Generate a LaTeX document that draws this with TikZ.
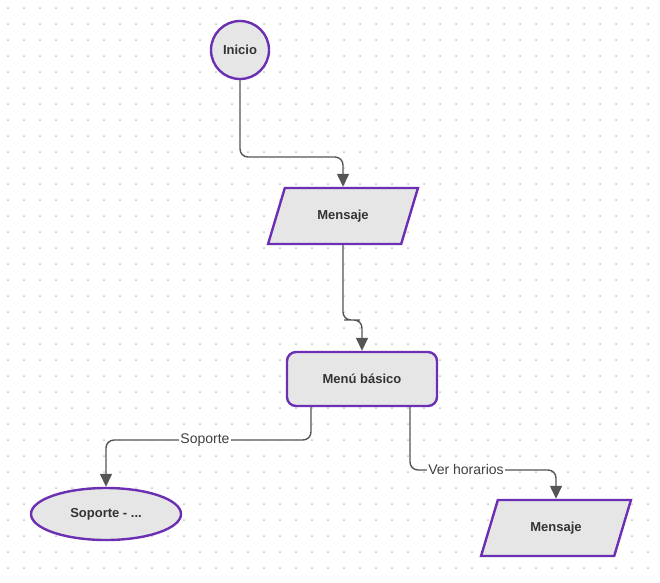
\documentclass[tikz,border=0pt]{standalone}
\usepackage{fontspec}
\setmainfont{Liberation Sans}
\usetikzlibrary{shapes.geometric,arrows.meta}
\definecolor{pur}{HTML}{6B2FB3}
\definecolor{fil}{HTML}{E6E6E6}
\definecolor{ln}{HTML}{555555}
\definecolor{dot}{HTML}{C0C0C0}
\begin{document}
\begin{tikzpicture}[x=1pt,y=-1pt,
  box/.style={draw=pur,line width=2.4pt,fill=fil,font=\bfseries\fontsize{13}{15}\selectfont,text=black!80},
  para/.style={box,trapezium,trapezium stretches=true,trapezium left angle=66,trapezium right angle=114,minimum width=151,minimum height=56},
  conn/.style={draw=ln,line width=1.4pt,rounded corners=8pt,-{Triangle[length=13pt,width=12pt]}},
  lab/.style={fill=white,inner sep=1pt,font=\fontsize{14}{16}\selectfont,text=black!75}]
\useasboundingbox (0,0) rectangle (660,582);
\foreach \i in {0,...,41}{\foreach \j in {0,...,36}{\fill[dot] (8+16*\i,8+16*\j) circle (1);}}
\node[box,circle,minimum size=58] (ini) at (240,50) {Inicio};
\node[para] (m1) at (343,216) {Mensaje};
\node[box,rounded corners=9pt,minimum width=150,minimum height=54] (menu) at (362,379) {Menú básico};
\node[box,ellipse,minimum width=150,minimum height=52] (sop) at (106,514) {Soporte - ...};
\node[para] (m2) at (556,528) {Mensaje};
\draw[conn] (ini.south) |- (290,157) -| (m1.north);
\draw[conn] (m1.south) |- (352,320) -| (menu.north);
\draw[conn] (menu.south -| 311,0) |- (200,440) -| (sop.north);
\draw[conn] (menu.south -| 410,0) |- (480,470) -| (m2.north);
\node[lab] (l1) at (205,440) {Soporte};
\node[lab] (l2) at (466,469) {Ver horarios};
\end{tikzpicture}
\end{document}
